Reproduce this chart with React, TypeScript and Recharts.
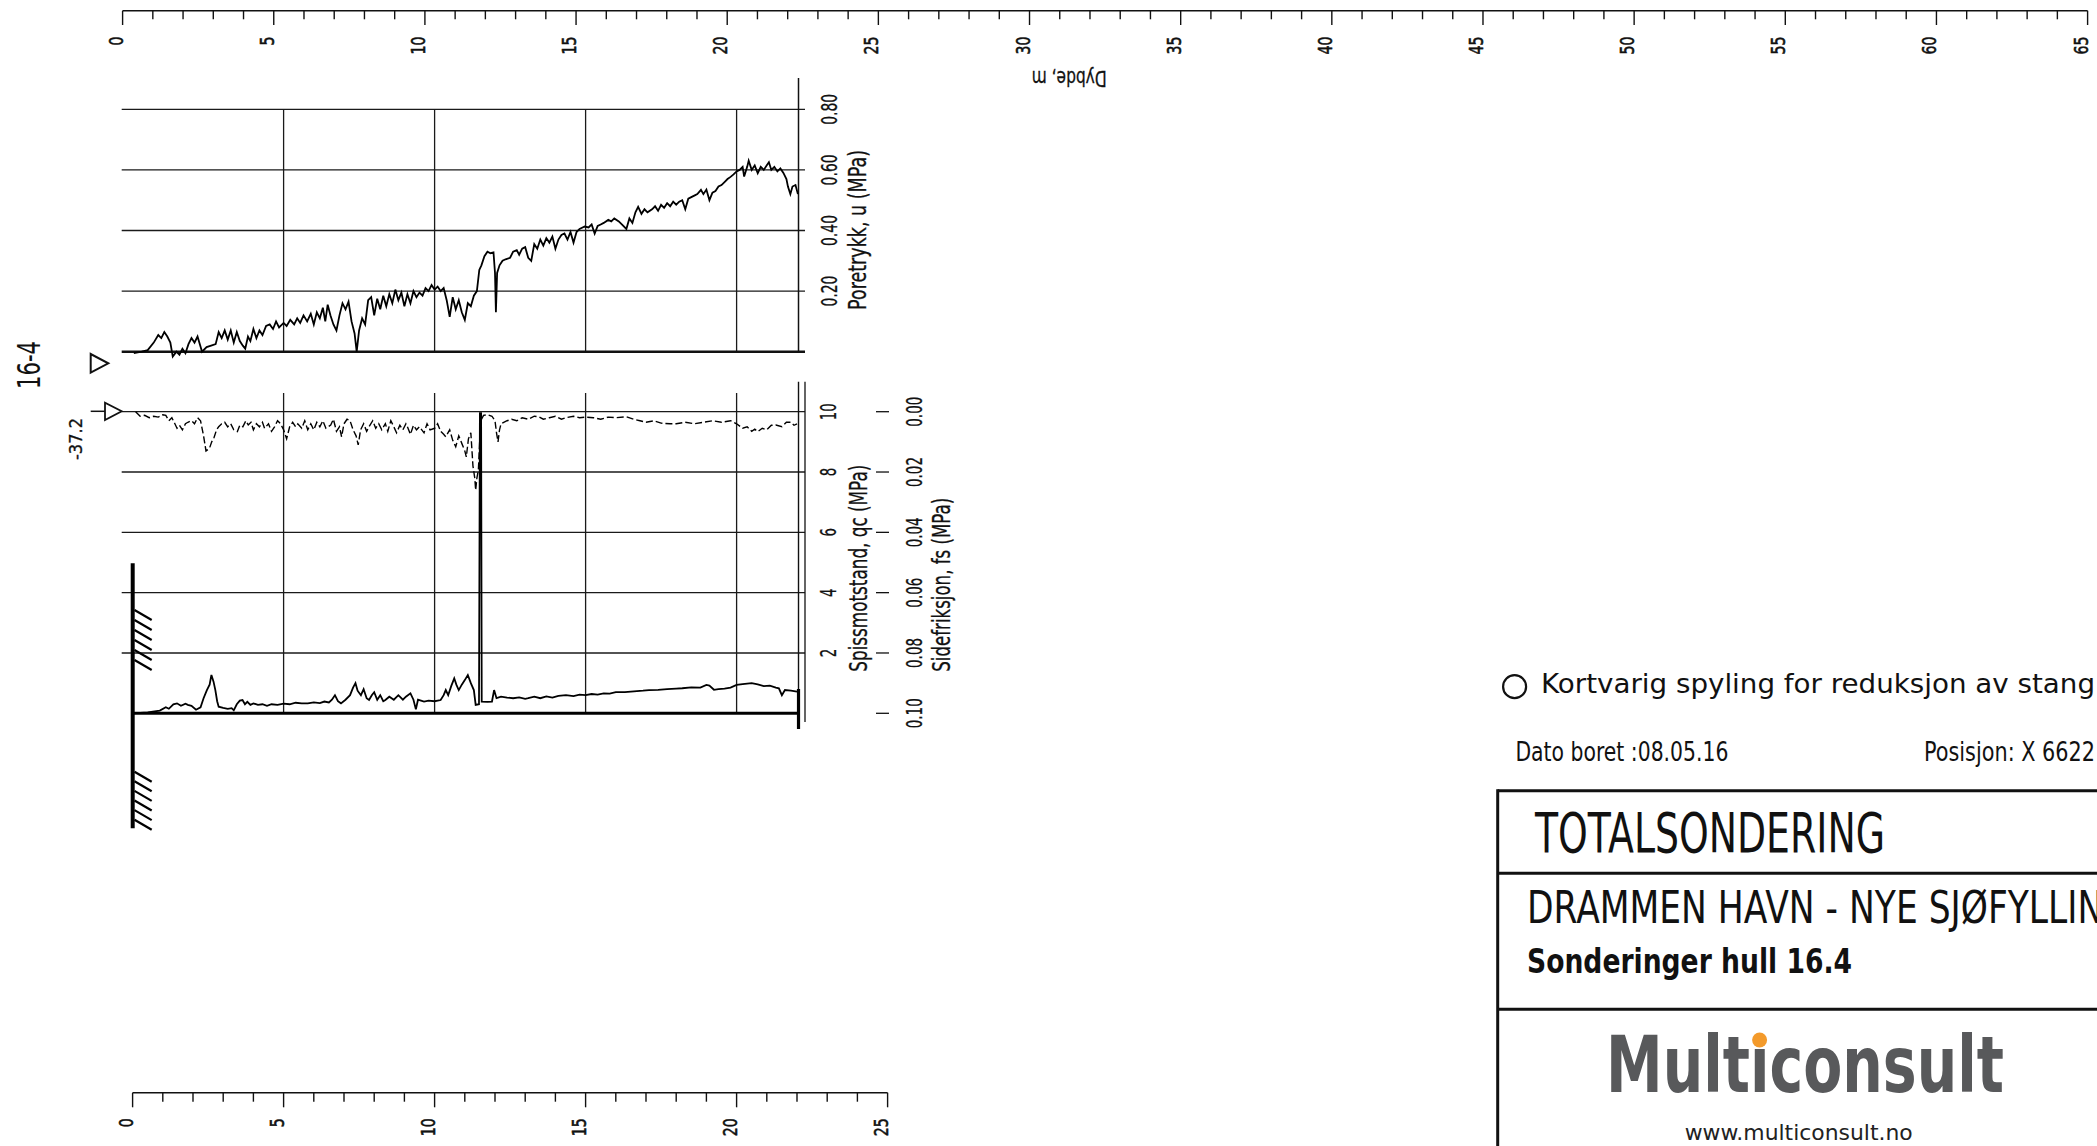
import React from 'react';
import { LineChart, ComposedChart, Line, XAxis, YAxis, ReferenceLine } from 'recharts';

// ---------------- data ----------------
// Pore pressure u (MPa) vs depth (m)
const porePressure: [number, number][] = [
  [0.04, -0.005], [0.3, 0.0], [0.5, 0.005], [0.7, 0.03], [0.85, 0.055], [0.95, 0.045], [1.05, 0.065], [1.15, 0.05],
  [1.25, 0.03], [1.33, -0.016], [1.45, 0.0], [1.55, -0.01], [1.65, 0.01], [1.75, -0.005], [1.85, 0.025], [1.95, 0.045],
  [2.05, 0.03], [2.15, 0.05], [2.3, 0.0], [2.45, 0.015], [2.6, 0.02], [2.75, 0.025], [2.85, 0.065], [2.95, 0.045],
  [3.05, 0.07], [3.15, 0.04], [3.25, 0.07], [3.35, 0.03], [3.45, 0.065], [3.55, 0.035], [3.65, 0.02], [3.73, 0.01],
  [3.82, 0.05], [3.9, 0.035], [4.0, 0.075], [4.1, 0.045], [4.2, 0.07], [4.3, 0.055], [4.42, 0.085], [4.54, 0.09],
  [4.65, 0.075], [4.75, 0.1], [4.85, 0.08], [5.0, 0.095], [5.1, 0.085], [5.22, 0.105], [5.35, 0.09], [5.45, 0.11],
  [5.55, 0.095], [5.66, 0.12], [5.78, 0.1], [5.9, 0.125], [6.0, 0.09], [6.1, 0.13], [6.2, 0.11], [6.3, 0.145],
  [6.38, 0.1], [6.46, 0.155], [6.55, 0.12], [6.65, 0.09], [6.75, 0.07], [6.85, 0.12], [6.95, 0.16], [7.05, 0.14],
  [7.15, 0.165], [7.25, 0.1], [7.35, 0.06], [7.42, 0.0], [7.5, 0.07], [7.6, 0.11], [7.7, 0.09], [7.8, 0.17],
  [7.9, 0.18], [8.0, 0.12], [8.1, 0.175], [8.2, 0.14], [8.3, 0.185], [8.4, 0.15], [8.5, 0.19], [8.6, 0.16],
  [8.7, 0.205], [8.8, 0.17], [8.9, 0.195], [9.0, 0.15], [9.1, 0.19], [9.2, 0.16], [9.3, 0.2], [9.4, 0.18],
  [9.5, 0.195], [9.6, 0.185], [9.7, 0.21], [9.8, 0.2], [9.9, 0.22], [10.0, 0.205], [10.1, 0.215], [10.2, 0.2],
  [10.3, 0.21], [10.4, 0.17], [10.5, 0.115], [10.6, 0.18], [10.7, 0.14], [10.8, 0.17], [10.9, 0.13], [11.0, 0.105],
  [11.1, 0.16], [11.2, 0.15], [11.3, 0.185], [11.4, 0.2], [11.48, 0.27], [11.55, 0.285], [11.65, 0.315], [11.75, 0.33],
  [11.85, 0.325], [11.95, 0.328], [12.0, 0.26], [12.03, 0.13], [12.07, 0.26], [12.15, 0.285], [12.25, 0.3], [12.35, 0.305],
  [12.5, 0.31], [12.6, 0.33], [12.72, 0.335], [12.8, 0.32], [12.9, 0.34], [13.0, 0.345], [13.1, 0.31], [13.2, 0.3],
  [13.3, 0.355], [13.4, 0.34], [13.5, 0.37], [13.6, 0.35], [13.7, 0.375], [13.8, 0.36], [13.9, 0.38], [14.0, 0.34],
  [14.1, 0.37], [14.2, 0.385], [14.3, 0.39], [14.4, 0.37], [14.5, 0.395], [14.6, 0.36], [14.7, 0.395], [14.8, 0.405],
  [14.97, 0.413], [15.1, 0.41], [15.2, 0.42], [15.3, 0.39], [15.4, 0.415], [15.5, 0.42], [15.6, 0.425], [15.75, 0.435],
  [15.85, 0.43], [15.95, 0.44], [16.1, 0.43], [16.2, 0.42], [16.35, 0.405], [16.45, 0.44], [16.55, 0.425], [16.65, 0.46],
  [16.74, 0.478], [16.85, 0.455], [16.95, 0.47], [17.05, 0.46], [17.2, 0.47], [17.3, 0.48], [17.4, 0.465], [17.5, 0.485],
  [17.6, 0.475], [17.7, 0.49], [17.8, 0.48], [17.9, 0.495], [18.0, 0.485], [18.1, 0.495], [18.2, 0.5], [18.3, 0.47],
  [18.4, 0.505], [18.5, 0.51], [18.6, 0.515], [18.7, 0.52], [18.82, 0.534], [18.9, 0.52], [19.0, 0.535], [19.1, 0.5],
  [19.2, 0.525], [19.3, 0.53], [19.4, 0.545], [19.5, 0.55], [19.6, 0.56], [19.7, 0.57], [19.8, 0.577], [19.9, 0.585],
  [20.0, 0.595], [20.1, 0.6], [20.2, 0.61], [20.25, 0.578], [20.35, 0.61], [20.4, 0.63], [20.5, 0.6], [20.6, 0.615],
  [20.7, 0.589], [20.8, 0.61], [20.9, 0.6], [21.0, 0.615], [21.07, 0.625], [21.15, 0.6], [21.25, 0.61], [21.35, 0.595],
  [21.45, 0.605], [21.55, 0.59], [21.65, 0.57], [21.7, 0.545], [21.78, 0.52], [21.85, 0.545], [21.95, 0.55], [22.03, 0.52],
];

// Cone resistance qc (MPa) vs depth (m)
const coneResistance: [number, number][] = [
  [0.0, 0.0], [0.5, 0.03], [0.9, 0.09], [1.1, 0.2], [1.2, 0.15], [1.35, 0.3], [1.47, 0.33], [1.6, 0.25],
  [1.75, 0.32], [1.83, 0.28], [1.95, 0.25], [2.1, 0.12], [2.25, 0.2], [2.35, 0.5], [2.46, 0.77], [2.55, 0.95],
  [2.61, 1.27], [2.68, 1.05], [2.74, 0.77], [2.8, 0.4], [2.85, 0.22], [3.0, 0.18], [3.15, 0.15], [3.28, 0.17],
  [3.35, 0.1], [3.45, 0.3], [3.55, 0.42], [3.64, 0.44], [3.72, 0.3], [3.8, 0.38], [3.9, 0.28], [4.0, 0.33],
  [4.15, 0.28], [4.3, 0.3], [4.45, 0.25], [4.6, 0.3], [4.8, 0.28], [5.0, 0.32], [5.2, 0.3], [5.4, 0.35],
  [5.6, 0.33], [5.8, 0.33], [6.0, 0.36], [6.2, 0.34], [6.35, 0.39], [6.5, 0.36], [6.6, 0.45], [6.7, 0.6],
  [6.8, 0.4], [6.9, 0.33], [7.05, 0.45], [7.2, 0.6], [7.3, 0.85], [7.38, 1.0], [7.45, 0.75], [7.56, 0.6],
  [7.65, 0.8], [7.75, 0.5], [7.83, 0.44], [7.92, 0.6], [8.0, 0.7], [8.1, 0.45], [8.2, 0.6], [8.3, 0.4],
  [8.37, 0.44], [8.5, 0.55], [8.65, 0.45], [8.8, 0.6], [8.95, 0.45], [9.05, 0.55], [9.2, 0.66], [9.3, 0.45],
  [9.38, 0.13], [9.45, 0.45], [9.55, 0.42], [9.65, 0.39], [9.8, 0.42], [10.0, 0.4], [10.2, 0.44], [10.3, 0.6],
  [10.37, 0.77], [10.45, 0.6], [10.55, 0.9], [10.65, 1.16], [10.72, 0.95], [10.8, 0.77], [10.9, 0.95], [11.0, 1.1],
  [11.1, 1.27], [11.2, 1.0], [11.3, 0.77], [11.36, 0.28], [11.47, 0.3], [11.5, 9.95], [11.54, 9.95], [11.56, 0.39],
  [11.75, 0.38], [11.9, 0.39], [11.97, 0.77], [12.05, 0.5], [12.2, 0.55], [12.4, 0.52], [12.6, 0.5], [12.8, 0.53],
  [13.0, 0.48], [13.1, 0.5], [13.3, 0.55], [13.5, 0.5], [13.7, 0.56], [13.9, 0.52], [14.1, 0.58], [14.35, 0.6],
  [14.6, 0.57], [14.8, 0.62], [15.0, 0.6], [15.2, 0.64], [15.4, 0.62], [15.6, 0.66], [15.8, 0.65], [16.0, 0.7],
  [16.3, 0.7], [16.6, 0.73], [16.9, 0.75], [17.1, 0.77], [17.4, 0.78], [17.7, 0.8], [18.0, 0.82], [18.2, 0.83],
  [18.5, 0.86], [18.8, 0.85], [19.0, 0.94], [19.1, 0.92], [19.25, 0.78], [19.4, 0.8], [19.6, 0.82], [19.8, 0.85],
  [20.0, 0.94], [20.2, 0.97], [20.5, 1.0], [20.7, 0.96], [20.9, 0.9], [21.1, 0.92], [21.3, 0.85], [21.4, 0.83],
  [21.5, 0.6], [21.6, 0.77], [21.8, 0.75], [22.0, 0.72],
];

// Side friction fs (MPa) vs depth (m)
const sideFriction: [number, number][] = [
  [0.1, 0.0], [0.25, 0.0015], [0.4, 0.0012], [0.55, 0.002], [0.7, 0.0015], [0.85, 0.0018], [1.0, 0.001], [1.1, 0.0012],
  [1.2, 0.003], [1.3, 0.002], [1.4, 0.004], [1.47, 0.0055], [1.55, 0.0045], [1.65, 0.006], [1.75, 0.004], [1.83, 0.0035],
  [1.95, 0.003], [2.05, 0.004], [2.15, 0.002], [2.25, 0.003], [2.35, 0.008], [2.43, 0.013], [2.5, 0.0125], [2.55, 0.012],
  [2.62, 0.01], [2.7, 0.0085], [2.78, 0.006], [2.85, 0.005], [2.95, 0.004], [3.05, 0.0035], [3.15, 0.005], [3.25, 0.004],
  [3.35, 0.006], [3.47, 0.0066], [3.55, 0.0045], [3.65, 0.005], [3.75, 0.003], [3.83, 0.0044], [3.92, 0.0035], [4.0, 0.006],
  [4.1, 0.004], [4.2, 0.005], [4.3, 0.0035], [4.37, 0.0055], [4.5, 0.004], [4.6, 0.0065], [4.7, 0.005], [4.8, 0.003],
  [4.9, 0.004], [5.0, 0.006], [5.1, 0.009], [5.2, 0.005], [5.3, 0.0035], [5.4, 0.005], [5.47, 0.004], [5.6, 0.0055],
  [5.7, 0.003], [5.8, 0.006], [5.9, 0.004], [6.0, 0.006], [6.1, 0.0035], [6.2, 0.005], [6.3, 0.003], [6.4, 0.0055],
  [6.56, 0.0044], [6.65, 0.0025], [6.75, 0.0065], [6.85, 0.005], [6.92, 0.0083], [7.0, 0.004], [7.1, 0.0025], [7.2, 0.003],
  [7.3, 0.006], [7.4, 0.008], [7.47, 0.011], [7.55, 0.006], [7.65, 0.004], [7.75, 0.0065], [7.83, 0.005], [7.95, 0.003],
  [8.05, 0.0055], [8.15, 0.004], [8.25, 0.006], [8.37, 0.004], [8.45, 0.0065], [8.55, 0.003], [8.65, 0.005], [8.74, 0.007],
  [8.85, 0.0045], [8.95, 0.006], [9.05, 0.004], [9.1, 0.005], [9.2, 0.0075], [9.3, 0.0045], [9.4, 0.006], [9.5, 0.005],
  [9.65, 0.007], [9.75, 0.004], [9.85, 0.006], [10.0, 0.0055], [10.1, 0.004], [10.2, 0.0065], [10.3, 0.0075], [10.37, 0.0083],
  [10.5, 0.006], [10.6, 0.0095], [10.7, 0.0116], [10.8, 0.008], [10.9, 0.0105], [11.0, 0.013], [11.05, 0.015], [11.12, 0.009],
  [11.2, 0.007], [11.27, 0.018], [11.33, 0.022], [11.36, 0.026], [11.4, 0.022], [11.45, 0.0193], [11.5, 0.008], [11.53, 0.003],
  [11.62, 0.0012], [11.75, 0.001], [11.9, 0.0015], [12.0, 0.003], [12.05, 0.007], [12.1, 0.01], [12.15, 0.006], [12.2, 0.004],
  [12.4, 0.003], [12.55, 0.0025], [12.72, 0.003], [12.9, 0.002], [13.1, 0.0025], [13.3, 0.0015], [13.45, 0.0017], [13.6, 0.0025],
  [13.8, 0.002], [14.0, 0.0015], [14.2, 0.0025], [14.35, 0.002], [14.6, 0.0015], [14.8, 0.002], [15.0, 0.0018], [15.26, 0.002],
  [15.5, 0.0025], [15.75, 0.0018], [16.0, 0.002], [16.35, 0.0017], [16.6, 0.0025], [16.8, 0.003], [17.0, 0.0035], [17.26, 0.003],
  [17.5, 0.0038], [17.8, 0.004], [18.0, 0.004], [18.3, 0.0035], [18.6, 0.004], [18.9, 0.0035], [19.2, 0.003], [19.5, 0.0035],
  [19.8, 0.003], [20.0, 0.004], [20.2, 0.0055], [20.35, 0.005], [20.5, 0.0065], [20.6, 0.0058], [20.7, 0.0066], [20.85, 0.0055],
  [21.0, 0.006], [21.15, 0.0045], [21.3, 0.0044], [21.5, 0.005], [21.65, 0.0035], [21.8, 0.0035], [21.9, 0.0045], [22.0, 0.004],
];

const poreTicks = [0.2, 0.4, 0.6, 0.8];
const qcTicks = [2, 4, 6, 8, 10];
const fsTicks = [0, 0.02, 0.04, 0.06, 0.08, 0.1];
const gridDepths = [5, 10, 15, 20];
const topRulerTicks = Array.from({ length: 66 }, (_, i) => i);
const bottomRulerTicks = Array.from({ length: 26 }, (_, i) => i);
const endDepth = 22.05;

// ---------------- layout ----------------
const FONT = "'DejaVu Sans', 'Liberation Sans', sans-serif";
const INK = '#111';
const X0 = 132.6; // px of depth 0 in plots
const PXM = 30.2; // px per metre
const dAt = (px: number) => (px - X0) / PXM;
const PLOT_L = 121.7;
const PLOT_R = 805;

// upper chart
const U0Y = 351.7;
const UPX = 303;
const uAt = (py: number) => (U0Y - py) / UPX;

// lower chart (container top offset)
const LT = 360;
const Q0Y = 713.3;
const QPX = 30.16;
const qAt = (py: number) => (Q0Y - py) / QPX;
const F0Y = 411.7;
const FPX = 3016;
const fAt = (py: number) => (py - F0Y) / FPX;

function T({ x, y, size, len, anchor = 'start', rot = 0, weight = 'normal', fill = INK, bold = 0, sy = 0, children }: any) {
  const extra: any = len ? { textLength: len, lengthAdjust: 'spacingAndGlyphs' } : {};
  if (bold) {
    extra.stroke = fill;
    extra.strokeWidth = bold;
  }
  if (sy) {
    return (
      <text
        x={0}
        y={0}
        fontSize={size}
        fontFamily={FONT}
        fontWeight={weight}
        fill={fill}
        textAnchor={anchor}
        transform={`translate(${x} ${y}) scale(1 ${sy})`}
        {...extra}
      >
        {children}
      </text>
    );
  }
  return (
    <text
      x={x}
      y={y}
      fontSize={size}
      fontFamily={FONT}
      fontWeight={weight}
      fill={fill}
      textAnchor={anchor}
      transform={rot ? `rotate(${rot} ${x} ${y})` : undefined}
      {...extra}
    >
      {children}
    </text>
  );
}

const makeRulerTick = (lineY: number, minor: number, major: number, labelOff: number) => (props: any) => {
  const { x, payload } = props;
  const v = payload.value as number;
  const isMajor = v % 5 === 0;
  const s = String(v);
  return (
    <g>
      <line x1={x} y1={lineY} x2={x} y2={lineY + (isMajor ? major : minor)} stroke={INK} strokeWidth={1.4} />
      {isMajor && (
        <T x={x} y={lineY + labelOff} size={19} len={s.length * 9} anchor="end" rot={-90} bold={0.6}>
          {s}
        </T>
      )}
    </g>
  );
};

const TopRulerTick = makeRulerTick(10.7, 8.6, 14.3, 25.8);
const BottomRulerTick = makeRulerTick(32.7, 9, 14.6, 25.6);

const PoreTick = (props: any) => {
  const { y, payload } = props;
  return (
    <T x={837} y={y} size={22} len={31} anchor="middle" rot={-90} bold={0.3}>
      {(payload.value as number).toFixed(2)}
    </T>
  );
};

const QcTick = (props: any) => {
  const { y, payload } = props;
  const s = String(payload.value);
  return (
    <T x={836} y={y} size={22} len={s.length * 8.5} anchor="middle" rot={-90} bold={0.3}>
      {s}
    </T>
  );
};

const FsTick = (props: any) => {
  const { y, payload } = props;
  return (
    <g>
      <line x1={876} y1={y} x2={889} y2={y} stroke={INK} strokeWidth={1.3} />
      <T x={922} y={y} size={22} len={30} anchor="middle" rot={-90} bold={0.3}>
        {(payload.value as number).toFixed(2)}
      </T>
    </g>
  );
};

const poreRows = porePressure.map(([d, u]) => ({ d, u }));
const qcRows = coneResistance.map(([d, qc]) => ({ d, qc }));
const fsRows = sideFriction.map(([d, fs]) => ({ d, fs }));
const rulerTopRows = [{ d: 0, y: 0 }, { d: 65, y: 0 }];
const rulerBottomRows = [{ d: 0, y: 0 }, { d: 25, y: 0 }];

const GRID = { stroke: '#1a1a1a', strokeWidth: 1.3 };

export default function App() {
  const hatch1 = [610, 620, 630, 640, 650, 660];
  const hatch2 = [771.7, 781.3, 790.9, 800.5, 810.1, 819.7];
  return (
    <div style={{ position: 'absolute', left: 0, top: 0, width: 2097, height: 1146, background: '#fff', overflow: 'hidden' }}>
      {/* Top depth ruler */}
      <div style={{ position: 'absolute', left: 0, top: 0 }}>
        <LineChart width={2097} height={80} data={rulerTopRows} margin={{ top: 0, left: 122.6, right: 9.4, bottom: 0 }}>
          <XAxis
            dataKey="d"
            type="number"
            domain={[0, 65]}
            ticks={topRulerTicks}
            interval={0}
            height={69.3}
            allowDataOverflow
            axisLine={{ stroke: INK, strokeWidth: 1.4 }}
            tickLine={false}
            tickSize={0}
            tickMargin={0}
            tick={(p: any) => <TopRulerTick {...p} />}
          />
          <YAxis hide domain={[0, 1]} />
          <Line dataKey="y" stroke="none" dot={false} isAnimationActive={false} />
        </LineChart>
      </div>

      {/* Pore pressure plot */}
      <div style={{ position: 'absolute', left: 0, top: 0 }}>
        <LineChart width={900} height={380} margin={{ top: 78, left: PLOT_L, right: 35, bottom: 18 }}>
          <XAxis type="number" dataKey="d" domain={[dAt(PLOT_L), dAt(PLOT_R)]} allowDataOverflow hide />
          <YAxis
            yAxisId="u"
            orientation="right"
            type="number"
            domain={[uAt(362), uAt(78)]}
            allowDataOverflow
            width={60}
            ticks={poreTicks}
            interval={0}
            axisLine={false}
            tickLine={false}
            tickSize={0}
            tickMargin={0}
            tick={(p: any) => <PoreTick {...p} />}
          />
          {poreTicks.map((v) => (
            <ReferenceLine key={'pu' + v} yAxisId="u" y={v} {...GRID} />
          ))}
          {gridDepths.map((d) => (
            <ReferenceLine key={'pv' + d} yAxisId="u" segment={[{ x: d, y: 0 }, { x: d, y: 0.8 }]} {...GRID} />
          ))}
          <ReferenceLine yAxisId="u" segment={[{ x: endDepth, y: 0 }, { x: endDepth, y: uAt(78) }]} stroke={INK} strokeWidth={1.5} />
          <ReferenceLine yAxisId="u" y={0} stroke={INK} strokeWidth={2.6} />
          <Line
            yAxisId="u"
            data={poreRows}
            dataKey="u"
            type="linear"
            dot={false}
            stroke="#000"
            strokeWidth={1.8}
            isAnimationActive={false}
          />
        </LineChart>
      </div>

      {/* CPT plot: qc and fs */}
      <div style={{ position: 'absolute', left: 0, top: LT }}>
        <ComposedChart width={1000} height={400} margin={{ top: 381.7 - LT, left: PLOT_L, right: 27.5, bottom: LT + 400 - 722 }}>
          <XAxis type="number" dataKey="d" domain={[dAt(PLOT_L), dAt(PLOT_R)]} allowDataOverflow hide />
          <YAxis
            yAxisId="qc"
            orientation="right"
            type="number"
            domain={[qAt(722), qAt(381.7)]}
            allowDataOverflow
            width={77.5}
            ticks={qcTicks}
            interval={0}
            axisLine={false}
            tickLine={false}
            tickSize={0}
            tickMargin={0}
            tick={(p: any) => <QcTick {...p} />}
          />
          <YAxis
            yAxisId="fs"
            orientation="right"
            type="number"
            reversed
            domain={[fAt(381.7), fAt(722)]}
            allowDataOverflow
            width={90}
            ticks={fsTicks}
            interval={0}
            axisLine={{ stroke: INK, strokeWidth: 1.3 }}
            tickLine={false}
            tickSize={0}
            tickMargin={0}
            tick={(p: any) => <FsTick {...p} />}
          />
          {qcTicks.map((v) => (
            <ReferenceLine key={'qh' + v} yAxisId="qc" y={v} {...GRID} />
          ))}
          {gridDepths.map((d) => (
            <ReferenceLine key={'qv' + d} yAxisId="qc" segment={[{ x: d, y: 0 }, { x: d, y: qAt(393) }]} {...GRID} />
          ))}
          <ReferenceLine yAxisId="qc" segment={[{ x: endDepth, y: qAt(698) }, { x: endDepth, y: qAt(381.7) }]} stroke={INK} strokeWidth={1.4} />
          <ReferenceLine
            yAxisId="qc"
            ifOverflow="visible"
            segment={[{ x: endDepth, y: qAt(689) }, { x: endDepth, y: qAt(729) }]}
            stroke="#000"
            strokeWidth={3.2}
          />
          <ReferenceLine yAxisId="qc" segment={[{ x: 0, y: 0 }, { x: endDepth, y: 0 }]} stroke="#000" strokeWidth={3} />
          <Line
            yAxisId="fs"
            data={fsRows}
            dataKey="fs"
            type="linear"
            dot={false}
            stroke="#000"
            strokeWidth={1.4}
            strokeDasharray="7 3"
            isAnimationActive={false}
          />
          <Line
            yAxisId="qc"
            data={qcRows}
            dataKey="qc"
            type="linear"
            dot={false}
            stroke="#000"
            strokeWidth={1.8}
            isAnimationActive={false}
          />
        </ComposedChart>
      </div>

      {/* Bottom depth ruler */}
      <div style={{ position: 'absolute', left: 0, top: 1060 }}>
        <LineChart width={900} height={86} data={rulerBottomRows} margin={{ top: 0, left: 132.6, right: 12.4, bottom: 0 }}>
          <XAxis
            dataKey="d"
            type="number"
            domain={[0, 25]}
            ticks={bottomRulerTicks}
            interval={0}
            height={53.3}
            allowDataOverflow
            axisLine={{ stroke: INK, strokeWidth: 1.4 }}
            tickLine={false}
            tickSize={0}
            tickMargin={0}
            tick={(p: any) => <BottomRulerTick {...p} />}
          />
          <YAxis hide domain={[0, 1]} />
          <Line dataKey="y" stroke="none" dot={false} isAnimationActive={false} />
        </LineChart>
      </div>

      {/* Annotations overlay */}
      <svg width={2097} height={1146} style={{ position: 'absolute', left: 0, top: 0, pointerEvents: 'none' }}>
        {/* axis titles */}
        <T x={1106.7} y={70.5} size={21} len={75} rot={180} bold={0.3}>Dybde, m</T>
        <T x={866} y={310} size={24} len={160} rot={-90} bold={0.3}>Poretrykk, u (MPa)</T>
        <T x={867} y={671.7} size={24} len={207} rot={-90} bold={0.3}>Spissmotstand, qc (MPa)</T>
        <T x={950} y={671.7} size={24} len={174} rot={-90} bold={0.3}>Sidefriksjon, fs (MPa)</T>

        {/* borehole id / level */}
        <T x={40} y={389} size={32} len={48} rot={-90}>16-4</T>
        <T x={81.7} y={460} size={17} len={42} rot={-90} bold={0.3}>-37.2</T>
        <polygon points="90.7,354 90.7,372.7 108.3,363.3" fill="none" stroke={INK} strokeWidth={2} />
        <line x1={90.7} y1={411.3} x2={105} y2={411.3} stroke={INK} strokeWidth={1.5} />
        <polygon points="105,402.7 105,420 121.7,411.3" fill="none" stroke={INK} strokeWidth={1.8} />

        {/* rock/terrain marker */}
        <line x1={132.7} y1={563.3} x2={132.7} y2={828.3} stroke="#000" strokeWidth={4} />
        {hatch1.concat(hatch2).map((y) => (
          <line key={'h' + y} x1={134.5} y1={y} x2={151.7} y2={y + 10} stroke="#000" strokeWidth={2.2} />
        ))}

        {/* notes */}
        <circle cx={1514.6} cy={686.7} r={11.5} fill="none" stroke={INK} strokeWidth={2.2} />
        <T x={1541} y={693.3} size={27} len={554}>Kortvarig spyling for reduksjon av stang</T>
        <T x={1515.4} y={760.5} size={26} len={213}>Dato boret :08.05.16</T>
        <T x={1924} y={760.5} size={19} len={171} sy={1.37}>Posisjon: X 6622</T>

        {/* title block */}
        <line x1={1497.7} y1={790.7} x2={2097} y2={790.7} stroke={INK} strokeWidth={3} />
        <line x1={1497.7} y1={789.2} x2={1497.7} y2={1146} stroke={INK} strokeWidth={3} />
        <line x1={1497.7} y1={873.3} x2={2097} y2={873.3} stroke={INK} strokeWidth={3} />
        <line x1={1497.7} y1={1009.3} x2={2097} y2={1009.3} stroke={INK} strokeWidth={3} />
        <T x={1535} y={851.7} size={55} len={350}>TOTALSONDERING</T>
        <T x={1527} y={923.3} size={34.3} len={603} sy={1.31}>DRAMMEN HAVN - NYE SJØFYLLING</T>
        <T x={1527} y={973} size={34} len={325} weight="bold">Sonderinger hull 16.4</T>
        <T x={1606} y={1091.7} size={57} len={398} weight="bold" fill="#58595b" sy={1.37}>Multiconsult</T>
        <rect x={1752} y={1030} width={16} height={17} fill="#fff" />
        <circle cx={1759.6} cy={1040} r={7.5} fill="#f39a2b" />
        <T x={1684.7} y={1140} size={22} len={228} fill="#222">www.multiconsult.no</T>
      </svg>
    </div>
  );
}
